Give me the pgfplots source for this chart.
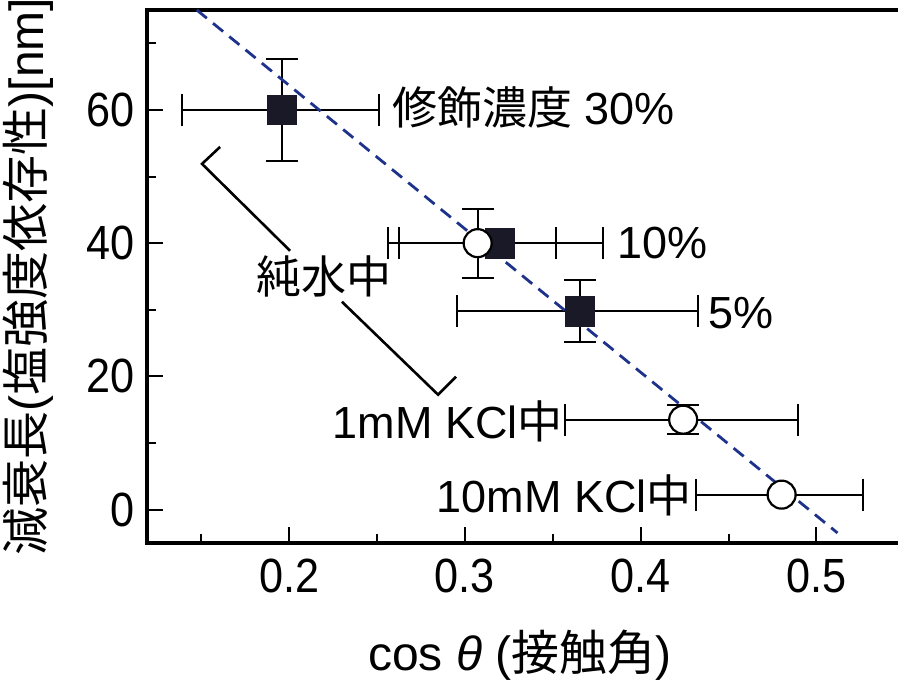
\documentclass[border=0pt]{standalone}
\usepackage{pgfplots}
\pgfplotsset{compat=1.18}
\usepackage{pgfplotstable}
\usepackage{fontspec}
\setmainfont{Liberation Sans}
\newfontfamily\narrowsans[FakeStretch=0.9]{Liberation Sans}
\newfontfamily\cjk{Noto Sans CJK JP}

\definecolor{fitblue}{RGB}{30,50,140}
\definecolor{markfill}{RGB}{25,25,40}
\newcommand{\annfont}{\fontsize{22.5}{24}\selectfont}

% modified surfaces in pure water (filled squares)
\pgfplotstableread{
x      y     exm     exp     eym  eyp
0.1960 60.0  0.0570  0.0550  7.6  7.6
0.3200 40.0  0.0635  0.0585  0.0  0.0
0.3655 29.8  0.0700  0.0670  4.6  4.6
}\squaredata

% salt solutions (open circles)
\pgfplotstableread{
x      y     exm     exp     eym  eyp
0.3073 40.0  0.0445  0.0445  5.2  5.2
0.4242 13.5  0.0672  0.0655  2.2  2.2
0.4802 2.25  0.0489  0.0465  0.0  0.0
}\circledata

\begin{document}
\begin{tikzpicture}
\begin{axis}[
  scale only axis,
  width=378.7pt, height=266.5pt,
  xmin=0.1192, xmax=0.55, ymin=-5, ymax=75,
  xtick={0.2,0.3,0.4,0.5},
  minor xtick={0.15,0.25,0.35,0.45},
  ytick={0,20,40,60},
  minor ytick={10,30,50,70},
  tick pos=left,
  tick align=inside,
  major tick length=8pt, minor tick length=4.5pt,
  tick style={black, line width=1pt},
  axis line style={line width=1.6pt},
  clip=false,
  /pgf/number format/assume math mode=true,
  /pgf/number format/fixed,
  ticklabel style={font=\narrowsans\fontsize{24}{24}\selectfont},
  xticklabel style={anchor=center, yshift=-16.5pt},
  yticklabel style={anchor=east, inner sep=0pt, xshift=-6pt},
  label style={font=\fontsize{24}{26}\selectfont},
  xlabel={cos {\itshape θ} ({\cjk 接触角})},
  ylabel={{\cjk 減衰長}({\cjk 塩強度依存性})[nm]},
  xlabel style={at={(axis description cs:0.4925,-0.21)}, anchor=center},
  ylabel style={at={(axis description cs:-0.157,0.5)}, anchor=center},
  error bars/error bar style={black, line width=1pt},
  error bars/error mark options={black, line width=1pt, mark size=8pt, rotate=90},
]
\coordinate (BL) at (axis cs:0.1192,-5);
\coordinate (TR) at (axis cs:0.5464,75);

% filled squares with error bars
\addplot[only marks, mark=square*, mark size=7.3pt,
  mark options={draw=markfill, fill=markfill, line width=0.8pt},
  error bars/.cd, x dir=both, y dir=both, x explicit, y explicit]
  table[x=x, y=y, x error minus=exm, x error plus=exp,
        y error minus=eym, y error plus=eyp] {\squaredata};

% linear trend
\addplot[fitblue, line width=1.4pt, dash pattern=on 6.5pt off 4pt, no marks]
  coordinates {(0.1475,75) (0.512,-3.5)};

% open circles with error bars
\addplot[only marks, mark=*, mark size=7pt,
  mark options={draw=black, fill=white, line width=1.1pt},
  error bars/.cd, x dir=both, y dir=both, x explicit, y explicit]
  table[x=x, y=y, x error minus=exm, x error plus=exp,
        y error minus=eym, y error plus=eyp] {\circledata};

% bracket for the pure-water group
\addplot[black, line width=1.3pt, no marks]
  coordinates {(0.1608,54.45) (0.1505,51.9) (0.2006,38.85)};
\addplot[black, line width=1.3pt, no marks]
  coordinates {(0.2301,31.2) (0.2848,17.25) (0.295,19.95)};

% annotations
\node[anchor=west, inner sep=0pt, font=\annfont] at (axis cs:0.2586,60.4) {{\cjk 修飾濃度} 30\%};
\node[anchor=west, inner sep=0pt, font=\annfont] at (axis cs:0.3866,40) {10\%};
\node[anchor=west, inner sep=0pt, font=\annfont] at (axis cs:0.4383,29.5) {5\%};
\node[anchor=center, inner sep=0pt, font=\annfont] at (axis cs:0.2199,34.95) {\cjk 純水中};
\node[anchor=east, inner sep=0pt, font=\annfont] at (axis cs:0.3559,13.3) {1mM KCl{\cjk 中}};
\node[anchor=east, inner sep=0pt, font=\annfont] at (axis cs:0.4292,2.2) {10mM KCl{\cjk 中}};
\end{axis}
\pgfresetboundingbox
\path[use as bounding box] ([xshift=-73.5pt,yshift=-71pt]BL) rectangle ([yshift=5pt]TR);
\end{tikzpicture}
\end{document}
